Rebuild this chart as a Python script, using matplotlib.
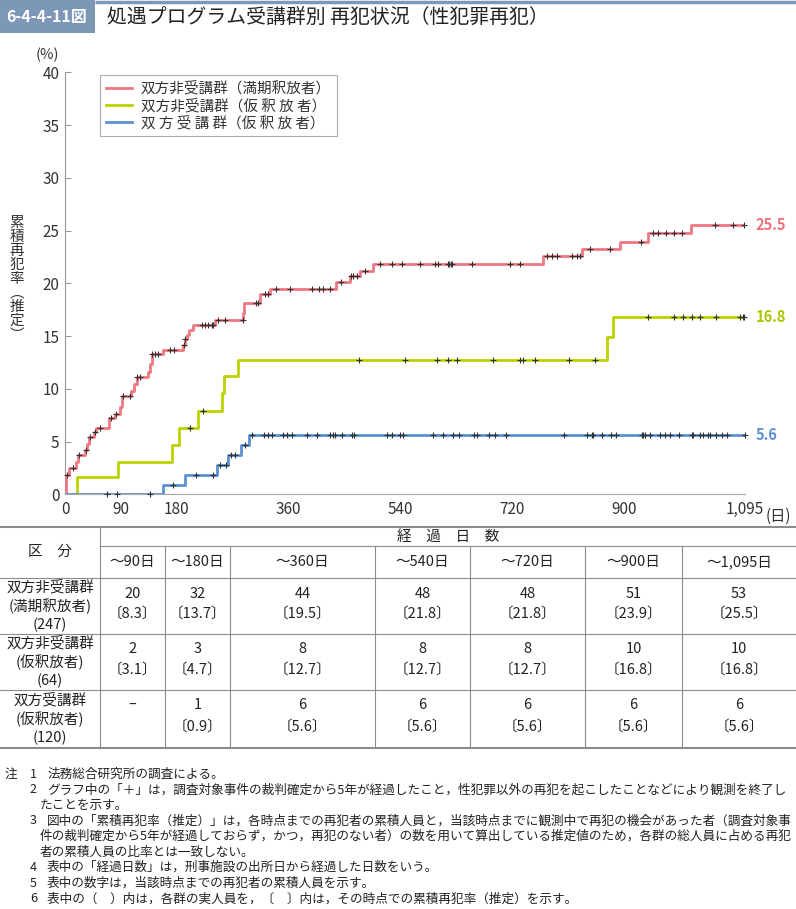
import numpy as np
import matplotlib.pyplot as plt
from matplotlib.lines import Line2D
from matplotlib.patches import Rectangle

plt.rcParams['font.family'] = ['Noto Sans CJK JP', 'DejaVu Sans']

W, H = 796, 909

# cumulative recidivism rate (%) : day at which the rate changes, and the new rate
red_days = [0, 1, 7, 18, 21, 32, 35, 38, 46, 50, 71, 80, 88, 91, 106, 111, 116, 133,
            137, 140, 158, 190, 194, 196, 200, 206, 241, 287, 289, 314, 330, 437, 459,
            475, 496, 770, 832, 894, 939, 1008, 1095]
red_rate = [0, 1.8, 2.5, 3.1, 3.7, 4.2, 4.8, 5.4, 5.9, 6.3, 7.2, 7.6, 8.3, 9.3, 9.8, 10.5,
            11.1, 11.6, 12.4, 13.3, 13.7, 14.2, 14.7, 15.1, 15.6, 16.1, 16.5, 17.2, 18.1,
            19.0, 19.5, 20.1, 20.7, 21.2, 21.8, 22.6, 23.3, 23.9, 24.8, 25.5, 25.5]

green_days = [0, 20, 86, 173, 184, 214, 253, 256, 279, 872, 882, 1095]
green_rate = [0, 1.6, 3.1, 4.7, 6.3, 7.9, 9.6, 11.2, 12.7, 14.9, 16.8, 16.8]

blue_days = [0, 158, 193, 245, 263, 284, 296, 1095]
blue_rate = [0, 0.9, 1.8, 2.8, 3.7, 4.7, 5.6, 5.6]

# censored observations ("+")
red_cens = [4, 13, 23, 34, 40, 48, 56, 74, 82, 94, 105, 116, 121, 140, 145, 150, 169,
            176, 192, 194, 220, 225, 231, 236, 239, 247, 258, 286, 308, 311, 322, 327,
            340, 362, 397, 409, 416, 426, 444, 461, 464, 470, 483, 508, 527, 543, 572,
            596, 601, 616, 619, 621, 623, 655, 716, 732, 776, 784, 792, 816, 824, 829,
            845, 877, 927, 947, 955, 968, 981, 993, 1047, 1075, 1094]
green_cens = [201, 222, 473, 548, 599, 617, 631, 690, 733, 738, 757, 811, 854, 939, 980,
              995, 1009, 1023, 1049, 1087, 1091, 1094]
blue_cens = [67, 84, 137, 174, 211, 238, 250, 260, 268, 274, 290, 301, 321, 327, 334,
             351, 357, 365, 389, 405, 427, 431, 435, 446, 462, 465, 518, 526, 540, 545,
             593, 608, 625, 635, 658, 663, 682, 692, 710, 804, 840, 848, 851, 864, 880,
             888, 929, 931, 934, 942, 958, 966, 974, 988, 1009, 1012, 1023, 1028, 1036,
             1039, 1049, 1058, 1066, 1095]

groups = ['双方非受講群（満期釈放者）', '双方非受講群（仮 釈 放 者）', '双 方 受 講 群（仮 釈 放 者）']
colors = ['#F07883', '#BCD200', '#5B90D2']
label_colors = ['#EE6F7E', '#AFC400', '#5B8FD0']

x_ticks = [0, 90, 180, 360, 540, 720, 900, 1095]
x_labels = ['0', '90', '180', '360', '540', '720', '900', '1,095']

# table
col_heads = ['～90日', '～180日', '～360日', '～540日', '～720日', '～900日', '～1,095日']
row_heads = ['双方非受講群\n(満期釈放者)\n(247)', '双方非受講群\n(仮釈放者)\n(64)',
             '双方受講群\n(仮釈放者)\n(120)']
counts_a = [20, 32, 44, 48, 48, 51, 53]
rates_a = [8.3, 13.7, 19.5, 21.8, 21.8, 23.9, 25.5]
counts_b = [2, 3, 8, 8, 8, 10, 10]
rates_b = [3.1, 4.7, 12.7, 12.7, 12.7, 16.8, 16.8]
counts_c = [None, 1, 6, 6, 6, 6, 6]
rates_c = [None, 0.9, 5.6, 5.6, 5.6, 5.6, 5.6]

notes = [
    ('1', '法務総合研究所の調査による。'),
    ('2', 'グラフ中の「＋」は，調査対象事件の裁判確定から5年が経過したこと，性犯罪以外の再犯を起こしたことなどにより観測を終了し'),
    ('', 'たことを示す。'),
    ('3', '図中の「累積再犯率（推定）」は，各時点までの再犯者の累積人員と，当該時点までに観測中で再犯の機会があった者（調査対象事'),
    ('', '件の裁判確定から5年が経過しておらず，かつ，再犯のない者）の数を用いて算出している推定値のため，各群の総人員に占める再犯'),
    ('', '者の累積人員の比率とは一致しない。'),
    ('4', '表中の「経過日数」は，刑事施設の出所日から経過した日数をいう。'),
    ('5', '表中の数字は，当該時点までの再犯者の累積人員を示す。'),
    ('6', '表中の（　）内は，各群の実人員を，〔　〕内は，その時点での累積再犯率（推定）を示す。'),
]

fig = plt.figure(figsize=(W / 100, H / 100), dpi=100)

# overlay in pixel coordinates for header, table and notes
ov = fig.add_axes([0, 0, 1, 1])
ov.set_xlim(0, W)
ov.set_ylim(H, 0)
ov.axis('off')

bar_c = '#7D98B7'
ov.add_patch(Rectangle((0, 0), 95, 33, facecolor=bar_c, edgecolor='none'))
ov.plot([95, W], [1.5, 1.5], color=bar_c, lw=2.5, solid_capstyle='butt')
ov.text(47, 17, '6-4-4-11図', color='white', fontsize=11.5, fontweight='bold',
        ha='center', va='center')
ov.text(107, 17, '処遇プログラム受講群別 再犯状況（性犯罪再犯）', color='#222222',
        fontsize=14.3, ha='left', va='center')

# chart
ax = fig.add_axes([65 / W, 1 - 494.3 / H, 680 / W, 421.8 / H])
ax.patch.set_alpha(0)
series = [(red_days, red_rate, red_cens), (green_days, green_rate, green_cens),
          (blue_days, blue_rate, blue_cens)]
handles = []
for (d, r, cens), c, lab in zip(series, colors, groups):
    ax.step(d, r, where='post', color=c, lw=2.0, zorder=3)
    d_arr = np.array(d)
    idx = np.searchsorted(d_arr, cens, side='right') - 1
    lvl = np.array(r)[idx]
    ax.plot(cens, lvl, '+', color='#333333', ms=5, mew=0.8, zorder=5, clip_on=False)
    handles.append(Line2D([], [], color=c, lw=2.0))

for r, c in zip([red_rate, green_rate, blue_rate], label_colors):
    ax.text(1112, r[-1], f'{r[-1]:.1f}', color=c, fontsize=10.5, fontweight='bold',
            ha='left', va='center', clip_on=False)

ax.set_xlim(0, 1095)
ax.set_ylim(0, 40)
ax.set_yticks(range(0, 41, 5))
ax.set_xticks(x_ticks)
ax.set_xticklabels(x_labels)
ax.tick_params(axis='y', direction='in', length=4, color='#999999', labelsize=11,
               labelcolor='#333333', pad=4)
ax.tick_params(axis='x', direction='in', length=0, labelsize=11,
               labelcolor='#333333', pad=5)
for s in ['top', 'right']:
    ax.spines[s].set_visible(False)
ax.spines['left'].set_color('#999999')
ax.spines['bottom'].set_color('#AAAAAA')

ax.text(1128, -2.05, '(日)', fontsize=11, color='#333333', ha='left', va='center',
        clip_on=False)
ov.text(47, 55, '(%)', fontsize=10.5, color='#333333', ha='center', va='center')
ov.text(17, 279, '累\n積\n再\n犯\n率\n︵\n推\n定\n︶', fontsize=10.5, color='#333333',
        ha='center', va='center', linespacing=1.0)

leg = ax.legend(handles, groups, loc='upper left', bbox_to_anchor=(0.0515, 0.993),
                borderaxespad=0, fontsize=10.5, frameon=True, fancybox=False,
                handlelength=1.8, handletextpad=0.6, labelspacing=0.18,
                borderpad=0.4)
leg.get_frame().set_edgecolor('#999999')
leg.get_frame().set_linewidth(0.8)
for t in leg.get_texts():
    t.set_color('#333333')

# table
line_c = '#8C8C8C'
edges = [100, 165, 230, 375, 470, 585, 682, W]
centers = [(a + b) / 2 for a, b in zip(edges[:-1], edges[1:])]
ov.plot([0, W], [527, 527], color=line_c, lw=1.5)
ov.plot([100, W], [546, 546], color=line_c, lw=0.8)
for y in [578, 634, 690]:
    ov.plot([0, W], [y, y], color=line_c, lw=0.8)
ov.plot([0, W], [748, 748], color=line_c, lw=1.5)
ov.plot([100, 100], [527, 748], color=line_c, lw=0.8)
for x in edges[1:-1]:
    ov.plot([x, x], [546, 748], color=line_c, lw=0.8)

tfs = 10.5
tc = '#222222'
ov.text(50, 552, '区　分', fontsize=tfs, color=tc, ha='center', va='center')
ov.text(448, 537, '経　過　日　数', fontsize=tfs, color=tc, ha='center', va='center')
for x, h in zip(centers, col_heads):
    ov.text(x, 562, h, fontsize=tfs, color=tc, ha='center', va='center')
row_y = [(606, 594, 614), (662, 649, 670), (719, 705, 727)]
tab = [(counts_a, rates_a), (counts_b, rates_b), (counts_c, rates_c)]
for (yc, yn, yr), lab, (cn, rt) in zip(row_y, row_heads, tab):
    ov.text(50, yc, lab, fontsize=tfs, color=tc, ha='center', va='center',
            linespacing=1.35)
    for x, n, r in zip(centers, cn, rt):
        if n is None:
            ov.text(x, yn, '–', fontsize=tfs, color=tc, ha='center', va='center')
            continue
        ov.text(x, yn, str(n), fontsize=tfs, color=tc, ha='center', va='center')
        ov.text(x, yr, f'〔{r:.1f}〕', fontsize=tfs, color=tc, ha='center', va='center')

# notes
nfs = 9.1
ov.text(5, 774, '注', fontsize=nfs, color=tc, ha='left', va='center')
for i, (num, txt) in enumerate(notes):
    y = 774 + i * 15.6
    if num:
        ov.text(30, y, num, fontsize=nfs, color=tc, ha='left', va='center')
        ov.text(47, y, txt, fontsize=nfs, color=tc, ha='left', va='center')
    else:
        ov.text(40, y, txt, fontsize=nfs, color=tc, ha='left', va='center')

fig.savefig('out.png', dpi=100)
